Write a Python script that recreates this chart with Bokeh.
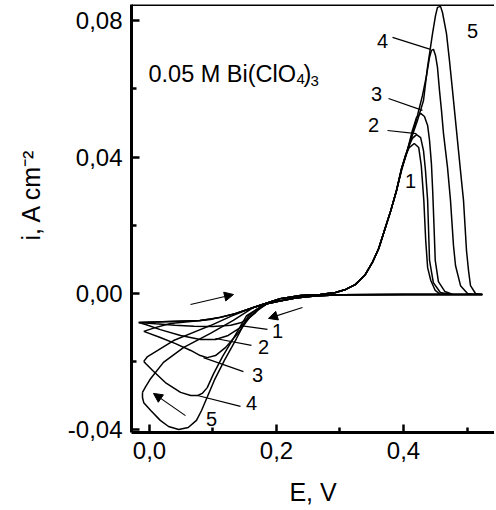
import numpy as np
from bokeh.plotting import figure
from bokeh.models import (Range1d, FixedTicker, CustomJSTickFormatter, Label, Span,
                          Arrow, NormalHead)
from bokeh.embed import file_html
from bokeh.resources import INLINE

# ---------------- data (E in V, i in A cm^-2) ----------------
X_MIN, X_MAX = -0.0283, 0.5433
Y_MIN, Y_MAX = -0.04076, 0.08475
X_TICKS = [0.0, 0.2, 0.4]
X_MINOR = [0.1, 0.3, 0.5]
Y_TICKS = [-0.04, 0.0, 0.04, 0.08]
Y_MINOR = [-0.02, 0.02, 0.06]

# upper (anodic-going) branch shared by curves 1 and 2
THICK_E = [-0.017, 0.033, 0.080, 0.112, 0.135, 0.159, 0.178]
THICK_I = [-0.0085, -0.0082, -0.0079, -0.0070, -0.0059, -0.0044, -0.0032]
U3_E = [-0.009, 0.009, 0.033, 0.065, 0.096, 0.135, 0.159, 0.178]
U3_I = [-0.0111, -0.0100, -0.0088, -0.0082, -0.0076, -0.0059, -0.0044, -0.0032]
U4_E = [-0.009, -0.003, 0.013, 0.038, 0.076, 0.096, 0.128, 0.159, 0.178]
U4_I = [-0.0199, -0.0185, -0.0167, -0.0138, -0.0109, -0.0094, -0.0067, -0.0044, -0.0032]
U5_E = [-0.011, -0.006, 0.002, 0.022, 0.054, 0.096, 0.132, 0.164, 0.178]
U5_I = [-0.0290, -0.0273, -0.0249, -0.0202, -0.0158, -0.0117, -0.0079, -0.0041, -0.0032]

# common anodic rise
RISE_E = [0.206, 0.238, 0.269, 0.293, 0.309, 0.324, 0.340, 0.351, 0.361, 0.370, 0.380, 0.389]
RISE_I = [-0.0015, -0.0006, -0.0003, 0.0003, 0.0012, 0.0026, 0.0056, 0.0091, 0.0132, 0.0185, 0.0243, 0.0302]

# stripping peaks (to the anodic vertex)
P1_E = [0.397, 0.403, 0.409, 0.417, 0.424, 0.428, 0.432, 0.435, 0.438, 0.443, 0.450, 0.458, 0.524]
P1_I = [0.0367, 0.0405, 0.0428, 0.0440, 0.0428, 0.0375, 0.0273, 0.0155, 0.0076, 0.0038, 0.0009, -0.0003, -0.0003]
P2_E = [0.397, 0.404, 0.409, 0.414, 0.4205, 0.427, 0.4315, 0.4346, 0.438, 0.441, 0.447, 0.458, 0.474, 0.524]
P2_I = [0.0367, 0.0405, 0.0434, 0.0455, 0.0466, 0.0457, 0.0419, 0.0361, 0.0273, 0.0097, 0.0032, 0.0003, -0.0003, -0.0003]
P3_E = [0.397, 0.406, 0.414, 0.4205, 0.427, 0.433, 0.438, 0.441, 0.444, 0.446, 0.448, 0.450, 0.455, 0.465, 0.478, 0.524]
P3_I = [0.0367, 0.0419, 0.0478, 0.0516, 0.0528, 0.0519, 0.0493, 0.0449, 0.0380, 0.0300, 0.0200, 0.0097, 0.0035, 0.0006, -0.0003, -0.0003]
P4_E = [0.397, 0.405, 0.4142, 0.4220, 0.4299, 0.4362, 0.4409, 0.4441, 0.4472, 0.4504, 0.4535, 0.4567,
        0.4598, 0.4630, 0.4693, 0.4740, 0.4787, 0.4819, 0.4898, 0.5008, 0.5134, 0.524]
P4_I = [0.0364, 0.0415, 0.0469, 0.0522, 0.0581, 0.0639, 0.0692, 0.0713, 0.0716, 0.0698, 0.0663, 0.0595,
        0.0537, 0.0469, 0.0370, 0.0273, 0.0141, 0.0082, 0.0023, 0.0000, -0.0003, -0.0003]
P5_E = [0.397, 0.4047, 0.4126, 0.4220, 0.4315, 0.4378, 0.4457, 0.4504, 0.4535, 0.4583, 0.4614, 0.4677,
        0.4724, 0.4772, 0.4819, 0.4866, 0.4913, 0.4945, 0.4992, 0.5024, 0.5055, 0.5134, 0.5244]
P5_I = [0.0361, 0.0411, 0.0457, 0.0507, 0.0566, 0.0663, 0.0762, 0.0815, 0.0839, 0.0842, 0.0824, 0.0762,
        0.0683, 0.0595, 0.0507, 0.0419, 0.0331, 0.0273, 0.0126, 0.0067, 0.0023, 0.0000, -0.0003]

# common cathodic return
RET_E = [0.40, 0.30, 0.26, 0.23, 0.205, 0.185]
RET_I = [-0.0003, -0.0004, -0.0007, -0.0013, -0.0022, -0.0030]

# lower (cathodic) branches back to the cathodic vertex
L1_E = [0.175, 0.167, 0.156, 0.145, 0.128, 0.100, 0.070, 0.040, 0.010, -0.017]
L1_I = [-0.0038, -0.0056, -0.0073, -0.0085, -0.0093, -0.0097, -0.0096, -0.0093, -0.0089, -0.0085]
L2_E = [0.175, 0.159, 0.143, 0.124, 0.104, 0.080, 0.049, 0.017, -0.006, -0.017]
L2_I = [-0.0041, -0.0067, -0.0100, -0.0123, -0.0135, -0.0135, -0.0123, -0.0106, -0.0091, -0.0085]
L3_E = [0.172, 0.159, 0.139, 0.120, 0.104, 0.091, 0.080, 0.065, 0.041, 0.017, -0.009]
L3_I = [-0.0047, -0.0067, -0.0117, -0.0158, -0.0182, -0.0188, -0.0182, -0.0167, -0.0147, -0.0129, -0.0111]
L4_E = [0.170, 0.153, 0.134, 0.115, 0.101, 0.091, 0.083, 0.076, 0.065, 0.049, 0.025, 0.005, -0.006, -0.009]
L4_I = [-0.0045, -0.0065, -0.0126, -0.0185, -0.0235, -0.0276, -0.0293, -0.0299, -0.0299, -0.0290,
        -0.0261, -0.0226, -0.0205, -0.0199]
L5_E = [0.170, 0.156, 0.137, 0.118, 0.102, 0.090, 0.082, 0.074, 0.061, 0.046, 0.030, 0.017, 0.002,
        -0.009, -0.011, -0.011]
L5_I = [-0.0045, -0.0065, -0.0132, -0.0196, -0.0255, -0.0308, -0.0343, -0.0372, -0.0393, -0.0399,
        -0.0390, -0.0372, -0.0343, -0.0320, -0.0305, -0.0290]

CURVES = [
    (THICK_E, THICK_I, P1_E, P1_I, L1_E, L1_I),
    (THICK_E, THICK_I, P2_E, P2_I, L2_E, L2_I),
    (U3_E, U3_I, P3_E, P3_I, L3_E, L3_I),
    (U4_E, U4_I, P4_E, P4_I, L4_E, L4_I),
    (U5_E, U5_I, P5_E, P5_I, L5_E, L5_I),
]

# curve number labels (text, E, i)
NUM_LABELS = [
    ("4", 0.3669, 0.0739), ("3", 0.3575, 0.0584), ("2", 0.3528, 0.0493),
    ("1", 0.4110, 0.0331), ("5", 0.5087, 0.0771),
    ("1", 0.2016, -0.0111), ("2", 0.1795, -0.0158), ("3", 0.1701, -0.0240),
    ("4", 0.1606, -0.0320), ("5", 0.0976, -0.0367),
]
# leader lines (E0, i0, E1, i1)
LEADERS = [
    (0.3827, 0.0751, 0.4425, 0.0716),
    (0.3764, 0.0572, 0.4299, 0.0537),
    (0.3748, 0.0478, 0.4205, 0.0469),
    (0.1433, -0.0094, 0.1858, -0.0105),
    (0.1039, -0.0132, 0.1606, -0.0152),
    (0.0850, -0.0188, 0.1480, -0.0229),
    (0.0756, -0.0299, 0.1433, -0.0331),
]
# scan-direction arrows (E0, i0, E1, i1)
ARROWS = [
    (0.0646, -0.0032, 0.1323, -0.0003),
    (0.2409, -0.0041, 0.1874, -0.0073),
    (0.0567, -0.0358, 0.0063, -0.0293),
]

FONT = "Liberation Sans"

p = figure(width=486, height=506, output_backend="svg", toolbar_location=None,
           x_range=Range1d(X_MIN, X_MAX), y_range=Range1d(Y_MIN, Y_MAX),
           min_border_left=123, min_border_right=0, min_border_top=2, min_border_bottom=76,
           margin=(2, 0, 0, 8))
p.xgrid.visible = False
p.ygrid.visible = False
p.outline_line_color = None
p.background_fill_color = "white"
p.border_fill_color = "white"

for ax in (p.xaxis[0], p.yaxis[0]):
    ax.axis_line_width = 3
    ax.axis_line_color = "black"
    ax.major_tick_in = 8
    ax.major_tick_out = 0
    ax.minor_tick_in = 5
    ax.minor_tick_out = 0
    ax.major_tick_line_width = 2.5
    ax.minor_tick_line_width = 2.5
    ax.major_label_text_font = FONT
    ax.major_label_text_font_size = "24px"
    ax.major_label_text_color = "black"
    ax.major_label_standoff = 9
    ax.axis_label_text_font = FONT
    ax.axis_label_text_font_size = "25px"
    ax.axis_label_text_font_style = "normal"
    ax.axis_label_text_color = "black"

p.xaxis[0].ticker = FixedTicker(ticks=X_TICKS, minor_ticks=X_MINOR)
p.yaxis[0].ticker = FixedTicker(ticks=Y_TICKS, minor_ticks=Y_MINOR)
p.xaxis[0].formatter = CustomJSTickFormatter(code="return tick.toFixed(1).replace('.', ',');")
p.yaxis[0].formatter = CustomJSTickFormatter(code="return tick.toFixed(2).replace('.', ',');")

# axis titles (leading no-break spaces push the centred y title upwards)
p.xaxis[0].axis_label = "E, V"
p.xaxis[0].axis_label_standoff = 16
p.yaxis[0].axis_label = "\u00a0" * 7 + "i, A cm\u207b\u00b2"
p.yaxis[0].axis_label_standoff = 20

p.add_layout(Span(location=Y_MAX, dimension="width", line_color="black", line_width=3))

for ue, ui, pe, pi, le, li in CURVES:
    E = list(ue) + RISE_E + list(pe) + RET_E + list(le)
    I = list(ui) + RISE_I + list(pi) + RET_I + list(li)
    p.line(E, I, line_color="black", line_width=1.5)

for e0, i0, e1, i1 in LEADERS:
    p.line([e0, e1], [i0, i1], line_color="black", line_width=1.2)

for e0, i0, e1, i1 in ARROWS:
    p.add_layout(Arrow(end=NormalHead(size=9, fill_color="black", line_color="black", line_width=1),
                       x_start=e0, y_start=i0, x_end=e1, y_end=i1,
                       line_color="black", line_width=1.1))

for txt, e, i in NUM_LABELS:
    p.add_layout(Label(x=e, y=i, text=txt, text_font=FONT, text_font_size="20px",
                       text_align="center", text_baseline="middle", text_color="black"))

# annotation text, screen units relative to the frame's bottom-left corner
def slabel(x, y, txt, size, **kw):
    p.add_layout(Label(x=x, y=y, x_units="screen", y_units="screen", text=txt,
                       text_font=FONT, text_font_size=size, text_color="black", **kw))

slabel(17, 359, "0.05 M Bi(ClO", "23.5px", text_baseline="alphabetic")
slabel(165, 354, "4", "15px", text_baseline="alphabetic")
slabel(172, 359, ")", "23.5px", text_baseline="alphabetic")
slabel(179, 352, "3", "15px", text_baseline="alphabetic")

open("out.html", "w").write(file_html(p, INLINE))
